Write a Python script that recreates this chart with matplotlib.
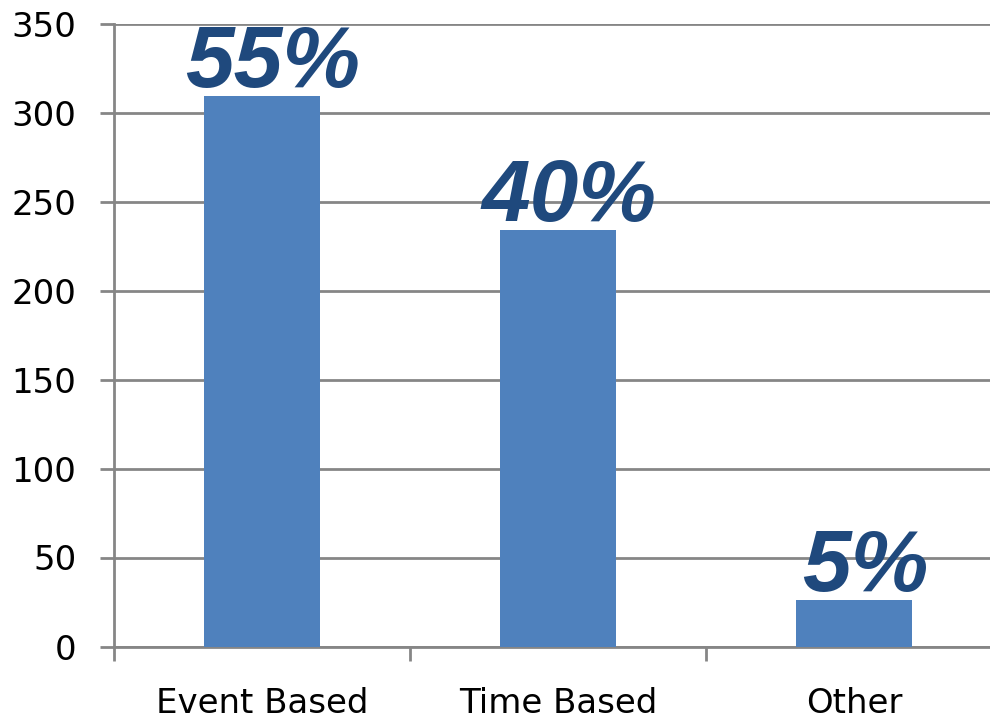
import matplotlib
matplotlib.use("Agg")
import matplotlib.pyplot as plt

categories = ["Event Based", "Time Based", "Other"]
values = [309, 234, 26]
pct_labels = ["55%", "40%", "5%"]
yticks = [0, 50, 100, 150, 200, 250, 300, 350]

grid_color = "#868686"
bar_color = "#4F81BD"
label_color = "#1F497D"

fig = plt.figure(figsize=(9.9, 7.21), dpi=100)
ax = fig.add_axes([114/990, 74.5/721, 888/990, 623/721])

x = list(range(len(categories)))
ax.bar(x, values, width=0.395, color=bar_color, zorder=3)

ax.set_xlim(-0.5, 2.5)
ax.set_ylim(0, 350)
ax.set_yticks(yticks)
ax.set_yticklabels([str(v) for v in yticks])
ax.set_xticks([-0.5, 0.5, 1.5, 2.5])
ax.set_xticklabels([])
ax.set_xticks(x, minor=True)
ax.set_xticklabels(categories, minor=True)

ax.yaxis.grid(True, color=grid_color, linewidth=2.0, zorder=0)
ax.set_axisbelow(True)
for s in ["top", "right"]:
    ax.spines[s].set_visible(False)
for s in ["left", "bottom"]:
    ax.spines[s].set_color(grid_color)
    ax.spines[s].set_linewidth(2.0)

ax.tick_params(axis="y", which="major", length=10, width=2.0, color=grid_color,
               labelsize=24.5, pad=17, labelcolor="black")
ax.tick_params(axis="x", which="major", length=10, width=2.0, color=grid_color)
ax.tick_params(axis="x", which="minor", length=0, labelsize=24.5, pad=29,
               labelcolor="black")
for lab in ax.get_yticklabels() + ax.get_xticklabels(minor=True):
    lab.set_family("DejaVu Sans")

for xi, v, t in zip(x, values, pct_labels):
    ax.annotate(t, (xi, v), xytext=(8, 6.5), textcoords="offset points",
                ha="center", va="baseline", fontsize=63, fontweight="bold",
                fontstyle="italic", family="Liberation Sans", color=label_color,
                zorder=4)

fig.savefig("out.png", dpi=100)
